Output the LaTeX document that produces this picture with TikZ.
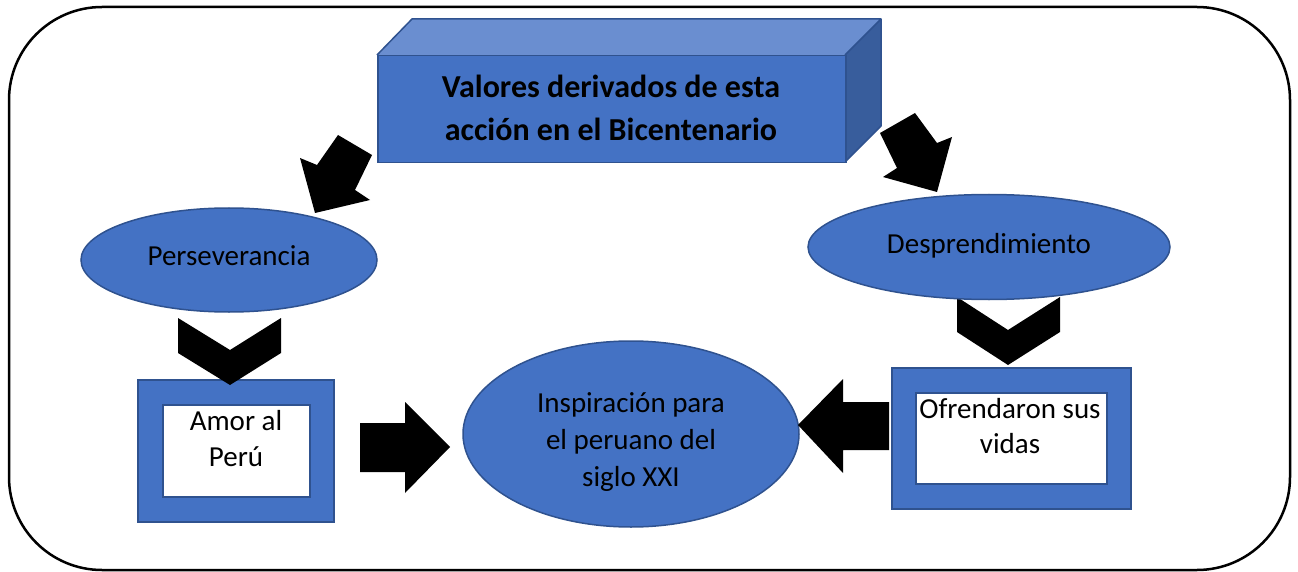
\documentclass[tikz,border=0pt]{standalone}
\usepackage{fontspec}
\setmainfont{Carlito}
\usetikzlibrary{shapes.geometric}
\definecolor{blu}{HTML}{4472C4}
\definecolor{bord}{HTML}{2F528F}
\definecolor{topf}{HTML}{6A8ED0}
\definecolor{sidef}{HTML}{385D9C}
\begin{document}
\begin{tikzpicture}[x=1pt,y=-1pt,
  blk/.style={fill=black},
  shp/.style={fill=blu, draw=bord, line width=1.5pt},
  oval/.style={ellipse, shp, inner sep=0pt},
  box/.style={shp, inner sep=0pt, anchor=north west},
  inbox/.style={fill=white, draw=bord, line width=1.8pt, inner sep=0pt, anchor=north west},
  txt/.style={anchor=base, font=\fontsize{29}{36}\selectfont, align=center, inner sep=0pt},
]
\useasboundingbox (0,0) rectangle (1298,572);
\draw[line width=2.5pt, rounded corners=93pt] (9,7) rectangle (1290,570);

% boxes
\node[box, minimum width=196pt, minimum height=142pt] (lbox) at (137,379) {};
\node[inbox, minimum width=147pt, minimum height=92pt] (lin) at (162,404) {};
\node[box, minimum width=239pt, minimum height=141pt] (rbox) at (891,367) {};
\node[inbox, minimum width=191pt, minimum height=91pt] (rin) at (915,392) {};

% chevrons
\fill[blk] (178,318) -- (230,350) -- (281,318) -- (281,353) -- (230,385) -- (178,353) -- cycle;
\fill[blk] (957,297) -- (1008,330) -- (1060,297) -- (1060,332) -- (1008,365) -- (957,332) -- cycle;

% ellipses
\node[oval, minimum width=296pt, minimum height=104pt] (pers) at (229,260) {};
\node[oval, minimum width=362pt, minimum height=105pt] (desp) at (989,247) {};
\node[oval, minimum width=336pt, minimum height=186pt] (insp) at (631,434) {};

% horizontal block arrows
\fill[blk] (360,423) -- (405,423) -- (405,402) -- (450,447) -- (405,493) -- (405,472) -- (360,472) -- cycle;
\fill[blk] (889,402) -- (843,402) -- (843,379) -- (798,425) -- (843,473) -- (843,450) -- (889,450) -- cycle;

% diagonal block arrows
\fill[blk] (372,155) -- (338,135) -- (317,165) -- (300,158) -- (315,213) -- (370,200) -- (355,190) -- cycle;
\fill[blk] (880,133) -- (915,113) -- (937,143) -- (952,137) -- (937,192) -- (883,177) -- (897,168) -- cycle;

% 3D title box
\fill[topf] (377,55) -- (412,19) -- (881,19) -- (845,55) -- cycle;
\fill[sidef] (845,55) -- (881,19) -- (881,126) -- (845,162) -- cycle;
\draw[bord, line width=1.5pt, line join=round] (377,55) -- (412,19) -- (881,19) -- (881,126) -- (845,162) (845,55) -- (881,19);
\node[box, minimum width=468pt, minimum height=107pt] (title) at (377,55) {};

% texts (base = baseline of last line)
\node[txt, font=\bfseries\fontsize{32}{43}\selectfont] (ttitle) at (611,141) {Valores derivados de esta\\acción en el Bicentenario};
\node[txt] (tpers) at (229,265) {Perseverancia};
\node[txt] (tdesp) at (989,253) {Desprendimiento};
\node[txt, font=\fontsize{29}{37}\selectfont] (tinsp) at (631,486) {Inspiración para\\el peruano del\\siglo XXI};
\node[txt] (tamor) at (236,466) {Amor al\\Perú};
\node[txt, font=\fontsize{29}{35}\selectfont] (tofr) at (1010,453) {Ofrendaron sus\\vidas};
\end{tikzpicture}
\end{document}
